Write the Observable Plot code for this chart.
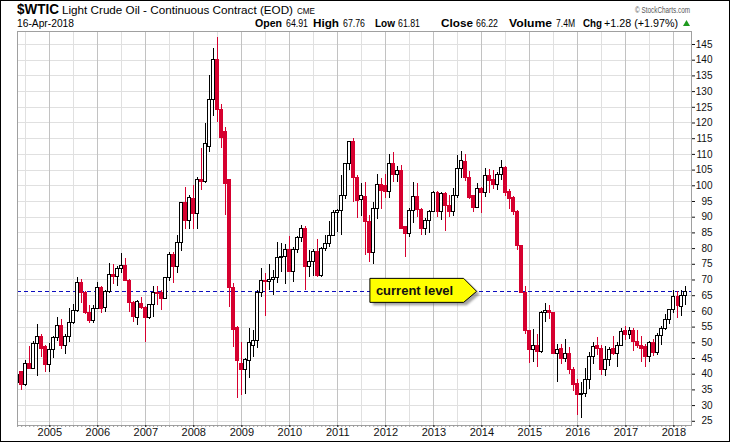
<!DOCTYPE html>
<html>
<head>
<meta charset="utf-8">
<script src="https://cdn.jsdelivr.net/npm/d3@7"></script>
<script src="https://cdn.jsdelivr.net/npm/@observablehq/plot@0.6"></script>
<style>
  html, body { margin: 0; padding: 0; background: #fff; overflow: hidden; }
  #wrap { position: relative; width: 730px; height: 442px; overflow: hidden;
          font-family: Arial, "Liberation Sans", sans-serif; }
  #hdr { display: block; }
  #chart svg { display: block; }
  #border { position: absolute; left: 0; top: 0; width: 730px; height: 442px;
            box-sizing: border-box; border: 1px solid #000; pointer-events: none; }
</style>
</head>
<body>
<div id="wrap">
  <svg id="hdr" width="730" height="31"></svg>
  <div id="chart"></div>
  <div id="border"></div>
</div>
<script>
// ---------------- data (monthly candles, May 2004 – Apr 2018) ----------------
const firstMonth = "2004-05-01";
const lastMonthExclusive = "2018-05-01";

const opens = [
  37.2, 40.6, 36.4, 43.3, 41.8, 49.5, 51.7, 48.6,
  42.8, 47.8, 51.4, 55.2, 49.1, 51.7, 56.2, 60.1, 68.9, 66.0, 59.4, 56.9,
  60.9, 67.5, 61.1, 66.1, 71.7, 70.9, 73.6, 74.3, 69.8, 62.6, 58.0, 62.2,
  61.0, 58.0, 62.0, 66.0, 66.0, 64.0, 70.6, 78.0, 74.0, 81.7, 94.5, 88.7,
  95.9, 91.1, 101.7, 101.3, 112.3, 127.4, 140.1, 124.0, 117.1, 101.7, 67.5, 54.6,
  43.3, 41.2, 44.1, 49.0, 50.5, 66.0, 69.8, 69.4, 70.0, 70.6, 77.0, 77.3,
  79.4, 72.5, 79.4, 83.4, 86.1, 74.0, 75.6, 78.9, 71.4, 79.9, 81.4, 84.1,
  91.3, 92.1, 96.9, 106.8, 113.9, 102.5, 95.5, 96.4, 88.4, 78.5, 92.5, 100.4,
  99.8, 98.0, 106.8, 103.4, 104.8, 86.8, 84.5, 92.1, 96.4, 92.2, 86.2, 88.9,
  91.8, 97.7, 91.8, 97.4, 93.5, 91.8, 96.8, 105.5, 107.6, 102.6, 96.8, 93.0,
  98.9, 97.6, 103.1, 101.8, 100.1, 103.3, 105.8, 98.0, 96.2, 91.6, 80.7, 65.9,
  53.6, 47.6, 49.0, 47.1, 59.5, 60.2, 59.4, 46.5, 48.1, 44.8, 46.3, 41.4,
  37.0, 33.3, 33.8, 38.2, 45.4, 48.9, 48.1, 41.2, 44.4, 48.1, 46.3, 49.1,
  53.9, 52.6, 53.9, 50.2, 48.9, 48.6, 45.5, 50.0, 46.8, 52.2, 54.4, 57.4,
  60.4, 64.7, 61.4, 64.9
];
const highs = [
  41.5, 40.9, 44.5, 48.7, 50.5, 55.7, 52.6, 49.0,
  49.7, 52.0, 58.0, 57.5, 52.5, 60.9, 62.3, 70.8, 70.0, 66.3, 62.0, 61.8,
  69.2, 68.0, 66.6, 75.3, 75.0, 74.3, 78.4, 77.0, 70.0, 63.0, 63.4, 64.3,
  61.5, 62.3, 68.0, 68.0, 66.8, 70.8, 78.8, 78.8, 84.1, 94.7, 99.3, 97.0,
  100.1, 102.6, 111.8, 119.9, 135.1, 143.6, 147.3, 126.0, 118.7, 102.0, 69.0, 55.2,
  50.2, 45.0, 54.6, 54.0, 66.6, 73.7, 72.0, 75.0, 72.9, 82.0, 81.5, 81.4,
  83.8, 80.5, 83.9, 87.2, 87.0, 79.3, 79.6, 82.8, 80.2, 84.2, 88.6, 92.0,
  92.6, 103.3, 107.0, 114.0, 115.0, 103.4, 100.6, 101.0, 90.5, 94.7, 103.5, 102.4,
  103.7, 110.0, 110.7, 106.0, 106.4, 87.0, 92.9, 101.0, 100.6, 92.8, 89.5, 92.0,
  98.2, 98.2, 97.8, 97.9, 97.0, 99.0, 109.5, 110.9, 109.9, 104.4, 96.9, 100.8,
  99.4, 105.5, 105.2, 105.0, 104.2, 108.2, 106.0, 98.7, 96.5, 92.0, 81.0, 67.9,
  54.0, 54.2, 52.5, 59.9, 62.6, 61.9, 59.7, 49.3, 49.3, 50.9, 48.4, 42.0,
  38.4, 37.5, 41.9, 46.8, 50.2, 51.7, 49.0, 48.8, 48.5, 51.9, 50.2, 54.5,
  55.2, 55.0, 54.7, 53.8, 52.0, 49.5, 50.5, 51.0, 52.9, 55.2, 59.0, 60.5,
  66.7, 66.3, 66.6, 67.8
];
const lows = [
  36.8, 34.8, 36.2, 41.5, 41.6, 39.4, 45.2, 40.5,
  40.5, 45.0, 50.5, 48.0, 46.2, 50.2, 55.8, 59.8, 62.6, 59.0, 56.2, 56.0,
  60.8, 59.4, 59.5, 65.6, 68.5, 68.0, 72.0, 69.5, 59.5, 56.6, 55.4, 60.5,
  50.2, 57.3, 58.0, 62.0, 60.4, 64.0, 69.5, 69.0, 72.0, 79.0, 86.0, 86.2,
  86.1, 86.1, 98.5, 100.6, 110.6, 122.0, 120.3, 112.0, 90.5, 61.2, 48.5, 32.4,
  33.2, 33.6, 38.6, 45.3, 48.3, 64.4, 58.3, 66.5, 65.0, 69.0, 72.4, 68.6,
  72.4, 69.1, 78.5, 82.0, 66.6, 70.8, 71.0, 70.8, 70.8, 79.0, 80.2, 84.0,
  85.1, 84.1, 95.7, 105.0, 94.6, 89.5, 90.3, 77.7, 75.5, 75.0, 89.2, 92.5,
  96.0, 96.0, 101.0, 101.0, 86.0, 77.1, 83.6, 87.9, 90.0, 84.1, 84.1, 84.9,
  91.5, 90.0, 89.1, 85.6, 89.9, 90.2, 95.9, 102.2, 101.5, 95.7, 91.4, 92.8,
  91.2, 96.3, 97.4, 98.7, 98.6, 101.8, 96.6, 92.5, 90.4, 79.4, 65.7, 52.7,
  43.5, 43.6, 42.0, 46.7, 56.5, 57.5, 46.5, 37.3, 43.2, 43.6, 40.0, 34.5,
  26.9, 25.8, 32.7, 35.2, 43.0, 45.8, 39.5, 39.2, 42.5, 46.1, 42.2, 49.0,
  50.7, 51.2, 47.1, 48.2, 43.8, 42.1, 43.6, 45.5, 46.0, 49.1, 53.8, 55.8,
  59.2, 57.6, 58.5, 61.8
];
const closes = [
  39.6, 36.4, 43.3, 41.7, 49.5, 51.7, 47.9, 42.8,
  47.8, 51.4, 55.2, 49.1, 51.7, 56.2, 60.1, 68.9, 66.0, 59.4, 56.9, 60.9,
  67.5, 60.9, 66.1, 71.7, 71.0, 73.6, 74.3, 69.8, 62.6, 58.1, 63.0, 61.0,
  58.0, 62.0, 66.0, 65.5, 64.0, 70.6, 78.0, 74.0, 81.7, 94.5, 88.7, 96.0,
  91.1, 101.7, 101.3, 113.4, 127.4, 140.1, 124.0, 115.3, 100.6, 67.5, 54.1, 44.1,
  41.2, 44.6, 49.8, 50.5, 66.0, 69.8, 69.4, 70.0, 70.6, 77.0, 77.3, 79.4,
  72.5, 79.4, 83.4, 86.1, 74.0, 75.6, 78.9, 71.4, 79.9, 81.4, 84.1, 91.4,
  92.1, 96.9, 106.8, 113.9, 102.5, 95.3, 96.9, 88.4, 78.5, 92.5, 100.4, 98.3,
  98.0, 106.8, 103.4, 104.8, 86.3, 84.7, 92.1, 96.4, 92.2, 86.2, 88.9, 91.8,
  97.7, 91.8, 97.4, 93.5, 91.8, 96.8, 105.5, 107.9, 102.6, 96.2, 93.0, 98.9,
  97.8, 103.1, 101.5, 100.1, 103.3, 105.8, 97.8, 95.9, 91.6, 80.7, 65.9, 53.6,
  47.6, 49.0, 47.1, 59.5, 60.2, 59.4, 46.5, 47.8, 44.7, 46.3, 41.4, 36.5,
  33.3, 33.8, 38.2, 45.4, 48.6, 48.1, 41.2, 44.4, 47.7, 46.3, 49.1, 53.4,
  52.6, 53.9, 50.2, 48.9, 47.9, 45.5, 50.0, 46.8, 52.2, 54.4, 57.4, 60.4,
  64.7, 61.6, 65.0, 66.2
];

// axis tick labels
const yTicks = [25, 30, 35, 40, 45, 50, 55, 60, 65, 70, 75, 80, 85, 90, 95, 100,
                105, 110, 115, 120, 125, 130, 135, 140, 145];
const yearLabels = ["2005", "2006", "2007", "2008", "2009", "2010", "2011",
                    "2012", "2013", "2014", "2015", "2016", "2017", "2018"];
const halfYearLabels = ["2004", "2005", "2006", "2007", "2008", "2009", "2010",
                        "2011", "2012", "2013", "2014", "2015", "2016", "2017"];

// latest quote (header + reference line)
const quote = { date: "16-Apr-2018", open: "64.91", high: "67.76", low: "61.81",
                close: 66.22, volume: "7.4M", chg: "+1.28 (+1.97%)" };
const annotation = { text: "current level", start: "2011-09-06", tip: "2013-11-26" };

// ---------------- build ----------------
const months = d3.utcMonth.range(new Date(firstMonth), new Date(lastMonthExclusive));
const data = months.map((date, i) => ({
  date, open: opens[i], high: highs[i], low: lows[i], close: closes[i]
}));
const RED = "#d6002f";
const isUp = d => d.close >= d.open;
const yearDates = yearLabels.map(y => new Date(`${y}-01-01`));
const halfYearDates = halfYearLabels.map(y => new Date(`${y}-07-01`));
const FONT = 'Arial, "Liberation Sans", sans-serif';

// header
const hdr = d3.select("#hdr");
const headerItems = [
  { t: "$WTIC", x: 17, y: 14, s: 14, b: true, len: 42 },
  { t: "Light Crude Oil - Continuous Contract (EOD)", x: 62, y: 14, s: 11.7, len: 231 },
  { t: "CME", x: 297, y: 14, s: 8.5, len: 18 },
  { t: quote.date, x: 17, y: 27, s: 10.3, len: 57 },
  { t: "Open", x: 255, y: 27, s: 11, b: true, len: 27 },
  { t: quote.open, x: 286, y: 27, s: 10, len: 22 },
  { t: "High", x: 313, y: 27, s: 11, b: true, len: 26 },
  { t: quote.high, x: 343, y: 27, s: 10, len: 22 },
  { t: "Low", x: 375, y: 27, s: 11, b: true, len: 20 },
  { t: quote.low, x: 398, y: 27, s: 10, len: 22 },
  { t: "Close", x: 441, y: 27, s: 11, b: true, len: 32 },
  { t: quote.close.toFixed(2), x: 476, y: 27, s: 10, len: 22 },
  { t: "Volume", x: 509, y: 27, s: 11, b: true, len: 43 },
  { t: quote.volume, x: 556, y: 27, s: 10, len: 19 },
  { t: "Chg", x: 583, y: 27, s: 11, b: true, len: 19 },
  { t: quote.chg, x: 604, y: 27, s: 10, len: 74 },
  { t: "© StockCharts.com", x: 635, y: 13, s: 9, len: 55, fill: "#555" }
];
for (const it of headerItems) {
  const el = hdr.append("text")
    .attr("x", it.x).attr("y", it.y)
    .attr("text-anchor", "start")
    .attr("font-family", FONT)
    .attr("font-size", it.s)
    .attr("font-weight", it.b ? "bold" : "normal")
    .attr("fill", it.fill || "#000")
    .text(it.t);
  if (it.len) el.attr("textLength", it.len).attr("lengthAdjust", "spacingAndGlyphs");
}
hdr.append("path").attr("d", "M683,26 L686.5,20 L690,26 Z").attr("fill", "#1f9a1f");

// chart
const chart = Plot.plot({
  width: 730,
  height: 411,
  marginTop: 0,
  marginRight: 39,
  marginBottom: 17,
  marginLeft: 17,
  x: { type: "utc", domain: [new Date("2004-04-30"), new Date("2018-05-15")] },
  y: { domain: [23.66, 149.14] },
  style: { fontFamily: FONT, fontSize: "10px", background: "transparent", overflow: "visible" },
  marks: [
    Plot.ruleY(yTicks, { stroke: "#e0e0e0", shapeRendering: "crispEdges" }),
    Plot.ruleX(halfYearDates, { stroke: "#e0e0e0", shapeRendering: "crispEdges" }),
    Plot.ruleX(yearDates, { stroke: "#c2c2c2", shapeRendering: "crispEdges" }),
    Plot.ruleY([quote.close], { stroke: "#0c0cc0", strokeDasharray: "4,3", shapeRendering: "crispEdges" }),
    Plot.ruleX(data, {
      x: "date", y1: "low", y2: "high",
      stroke: d => isUp(d) ? "#000" : RED,
      strokeWidth: 1, clip: true, shapeRendering: "crispEdges"
    }),
    Plot.rect(data, {
      x1: d => d3.utcDay.offset(d.date, -11),
      x2: d => d3.utcDay.offset(d.date, 11),
      y1: d => Math.min(d.open, d.close),
      y2: d => Math.max(d.open, d.close),
      fill: d => isUp(d) ? "#fff" : RED,
      stroke: d => isUp(d) ? "#000" : RED,
      strokeWidth: 1, clip: true, shapeRendering: "crispEdges"
    }),
    Plot.frame({ stroke: "#a0a0a0", shapeRendering: "crispEdges" }),
    Plot.axisY(yTicks, {
      anchor: "right", tickSize: 3, tickPadding: 18, textAnchor: "end",
      fontSize: 10, color: "#111", tickFormat: d => String(d)
    }),
    Plot.axisX(months, { tickSize: 2, tickFormat: () => "", color: "#999" }),
    Plot.axisX(yearDates, {
      tickSize: 2, tickPadding: 1, fontSize: 11, color: "#111",
      tickFormat: d3.utcFormat("%Y")
    })
  ]
});
document.getElementById("chart").appendChild(chart);

// "current level" callout, positioned through the plot's scales
const sx = chart.scale("x"), sy = chart.scale("y");
const x0 = sx.apply(new Date(annotation.start));
const xt = sx.apply(new Date(annotation.tip));
const yc = sy.apply(quote.close);
const pts = [[x0, yc - 13], [xt - 13, yc - 13], [xt, yc], [xt - 13, yc + 11], [x0, yc + 11]];
const svgSel = d3.select(chart);
const defs = svgSel.append("defs");
defs.append("filter").attr("id", "shadowBlur")
  .attr("x", "-20%").attr("y", "-50%").attr("width", "140%").attr("height", "200%")
  .append("feGaussianBlur").attr("stdDeviation", 1.2);
const g = svgSel.append("g");
g.append("polygon")
  .attr("points", pts.map(p => [p[0] + 3, p[1] + 3].join(",")).join(" "))
  .attr("fill", "#666").attr("opacity", 0.6).attr("filter", "url(#shadowBlur)");
g.append("polygon")
  .attr("points", pts.map(p => p.join(",")).join(" "))
  .attr("fill", "#ffff00").attr("stroke", "#000").attr("stroke-width", 1);
g.append("text")
  .attr("x", x0 + 6).attr("y", yc + 4)
  .attr("text-anchor", "start")
  .attr("font-family", FONT).attr("font-size", 13).attr("font-weight", "bold")
  .attr("fill", "#111")
  .text(annotation.text);
</script>
</body>
</html>
